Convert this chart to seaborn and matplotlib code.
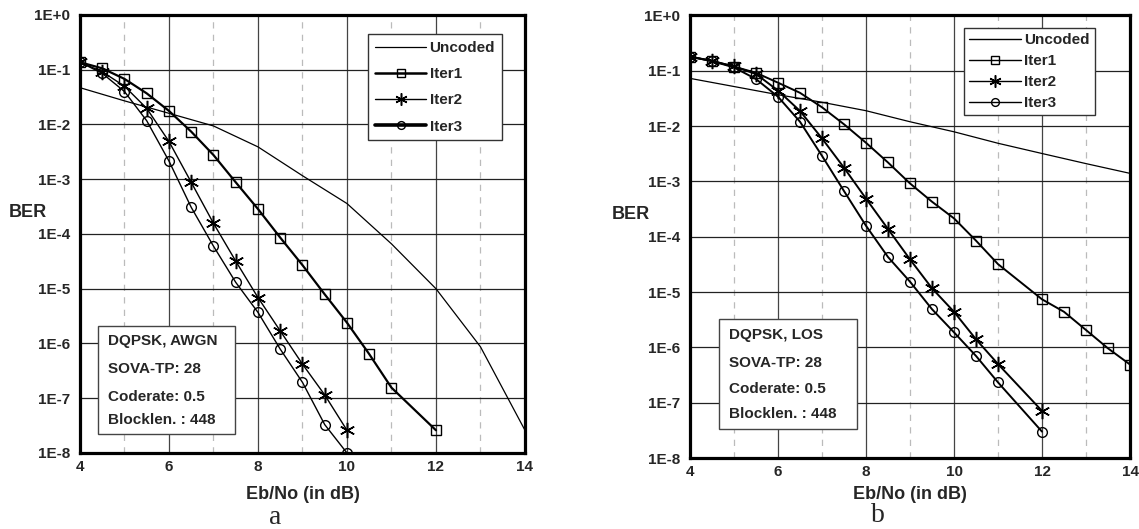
import numpy as np
import pandas as pd
import seaborn as sns
import matplotlib.pyplot as plt
from matplotlib.patches import Rectangle
from matplotlib.ticker import NullLocator

sns.set_style('white')
plt.rcParams['font.family'] = ['Liberation Sans', 'DejaVu Sans']
plt.rcParams['font.weight'] = 'bold'

# ---- data ----
ebno_uncoded = [4, 5, 6, 7, 8, 9, 10, 11, 12, 13, 14]

# (a) DQPSK, AWGN
awgn_uncoded = [4.7e-2, 2.7e-2, 1.6e-2, 9.4e-3, 3.9e-3, 1.16e-3, 3.6e-4, 6.6e-5, 1.0e-5, 8.7e-7, 2.6e-8]
awgn_iter1_x = [4, 4.5, 5, 5.5, 6, 6.5, 7, 7.5, 8, 8.5, 9, 9.5, 10, 10.5, 11, 12]
awgn_iter1 = [0.137, 0.106, 0.068, 0.037, 0.0177, 0.0074, 0.00277, 8.8e-4, 2.86e-4, 8.6e-5,
              2.7e-5, 7.9e-6, 2.4e-6, 6.4e-7, 1.56e-7, 2.6e-8]
awgn_iter23_x = [4, 4.5, 5, 5.5, 6, 6.5, 7, 7.5, 8, 8.5, 9, 9.5, 10]
awgn_iter2 = [0.137, 0.092, 0.05, 0.0197, 0.0049, 8.8e-4, 1.57e-4, 3.2e-5, 6.9e-6, 1.7e-6,
              4.2e-7, 1.15e-7, 2.6e-8]
awgn_iter3 = [0.137, 0.086, 0.04, 0.0117, 0.00215, 3.07e-4, 6.0e-5, 1.31e-5, 3.7e-6, 7.9e-7,
              1.95e-7, 3.3e-8, 1.0e-8]

# (b) DQPSK, LOS
los_uncoded = [0.073, 0.052, 0.037, 0.027, 0.019, 0.012, 0.0079, 0.0049, 0.0032, 0.0021, 0.0014]
los_iter1_x = [4, 4.5, 5, 5.5, 6, 6.5, 7, 7.5, 8, 8.5, 9, 9.5, 10, 10.5, 11, 12, 12.5, 13, 13.5, 14]
los_iter1 = [0.18, 0.152, 0.119, 0.092, 0.061, 0.040, 0.0219, 0.0108, 0.0050, 0.0022, 9.2e-4,
             4.3e-4, 2.15e-4, 8.5e-5, 3.2e-5, 7.4e-6, 4.4e-6, 2.06e-6, 9.6e-7, 4.9e-7]
los_iter23_x = [4, 4.5, 5, 5.5, 6, 6.5, 7, 7.5, 8, 8.5, 9, 9.5, 10, 10.5, 11, 12]
los_iter2 = [0.18, 0.15, 0.12, 0.0875, 0.044, 0.0188, 0.006, 0.00177, 4.9e-4, 1.38e-4, 3.9e-5,
             1.17e-5, 4.4e-6, 1.4e-6, 5.0e-7, 7.1e-8]
los_iter3 = [0.18, 0.15, 0.115, 0.071, 0.034, 0.012, 0.0029, 6.7e-4, 1.58e-4, 4.3e-5, 1.54e-5,
             4.9e-6, 1.87e-6, 7.0e-7, 2.33e-7, 3.0e-8]

ytick_vals = [10.0 ** -k for k in range(0, 9)]
ytick_labels = ['1E+0'] + ['1E-%d' % k for k in range(1, 9)]
xtick_vals = [4, 6, 8, 10, 12, 14]

info_a = ['DQPSK, AWGN', 'SOVA-TP: 28', 'Coderate: 0.5', 'Blocklen. : 448']
info_b = ['DQPSK, LOS', 'SOVA-TP: 28', 'Coderate: 0.5', 'Blocklen. : 448']

fig = plt.figure(figsize=(11.39, 5.29), dpi=100)
ax_a = fig.add_axes([0.0702, 0.1437, 0.3907, 0.828])
ax_b = fig.add_axes([0.6058, 0.1342, 0.3863, 0.8365])


def draw_panel(ax, unc, i1x, i1, i23x, i2, i3, widths):
    sns.lineplot(x=ebno_uncoded, y=unc, ax=ax, color='k', linewidth=0.9, label='Uncoded')
    sns.lineplot(x=i1x, y=i1, ax=ax, color='k', linewidth=widths[0], marker='s',
                 markersize=7, markerfacecolor='none', markeredgecolor='k',
                 markeredgewidth=1.0, label='Iter1')
    sns.lineplot(x=i23x, y=i2, ax=ax, color='k', linewidth=widths[1], marker=(6, 2, 0),
                 markersize=11, markeredgecolor='k', markeredgewidth=1.1, label='Iter2')
    sns.lineplot(x=i23x, y=i3, ax=ax, color='k', linewidth=widths[2], marker='o',
                 markersize=7, markerfacecolor='none', markeredgecolor='k',
                 markeredgewidth=1.0, label='Iter3')

    ax.set_yscale('log')
    ax.set_xlim(4, 14)
    ax.set_ylim(1e-8, 1)
    ax.set_yticks(ytick_vals)
    ax.set_yticklabels(ytick_labels)
    ax.yaxis.set_minor_locator(NullLocator())
    ax.set_xticks(xtick_vals)
    ax.set_xticks([5, 7, 9, 11, 13], minor=True)
    ax.tick_params(axis='both', which='major', labelsize=11, length=4, width=1, direction='out',
                   color='k', pad=3)
    ax.tick_params(axis='x', which='major', pad=1)
    ax.tick_params(which='minor', length=0)
    for lab in ax.get_xticklabels() + ax.get_yticklabels():
        lab.set_fontweight('bold')

    ax.grid(True, which='major', axis='y', color='#222222', linewidth=0.9, linestyle='-')
    ax.grid(True, which='major', axis='x', color='#444444', linewidth=0.9, linestyle='-')
    ax.grid(True, which='minor', axis='x', color='#bbbbbb', linewidth=0.9, linestyle=(0, (5, 5)))
    ax.set_axisbelow(True)

    for side in ['left', 'right', 'top', 'bottom']:
        ax.spines[side].set_visible(True)
        ax.spines[side].set_color('k')
        ax.spines[side].set_linewidth(2.3)

    ax.set_xlabel('Eb/No (in dB)', fontsize=13, fontweight='bold')
    ax.set_ylabel('BER', fontsize=13, fontweight='bold', rotation=0)


draw_panel(ax_a, awgn_uncoded, awgn_iter1_x, awgn_iter1, awgn_iter23_x, awgn_iter2, awgn_iter3,
           (1.6, 1.0, 1.0))
draw_panel(ax_b, los_uncoded, los_iter1_x, los_iter1, los_iter23_x, los_iter2, los_iter3,
           (1.4, 1.4, 1.4))

ax_a.xaxis.set_label_coords(0.5, -0.0753)
ax_b.xaxis.set_label_coords(0.5, -0.063)
ax_a.yaxis.set_label_coords(-0.117, 0.53)
ax_b.yaxis.set_label_coords(-0.134, 0.53)

leg_a = ax_a.legend(loc='upper left', bbox_to_anchor=(0.6465, 0.9566), frameon=True,
                    fancybox=False, edgecolor='#333333', framealpha=1, fontsize=11,
                    handlelength=3.4, labelspacing=0.8, borderpad=0.45, handletextpad=0.2,
                    borderaxespad=0, markerscale=0.8)
leg_b = ax_b.legend(loc='upper left', bbox_to_anchor=(0.6227, 0.972), frameon=True,
                    fancybox=False, edgecolor='#333333', framealpha=1, fontsize=11,
                    handlelength=3.4, labelspacing=0.45, borderpad=0.35, handletextpad=0.2,
                    borderaxespad=0, markerscale=0.8)
for leg in (leg_a, leg_b):
    leg.get_frame().set_linewidth(1.0)
leg_a.get_lines()[1].set_linewidth(1.8)
leg_a.get_lines()[3].set_linewidth(2.6)
for line in leg_b.get_lines():
    line.set_linewidth(1.0)


def info_box(ax, lines, x0, y0, x1, y1, tx, tys):
    ax.add_patch(Rectangle((x0, y0), x1 - x0, y1 - y0, transform=ax.transAxes,
                           facecolor='white', edgecolor='#444444', linewidth=1.0, zorder=5))
    for txt, ty in zip(lines, tys):
        ax.text(tx, ty, txt, transform=ax.transAxes, fontsize=11, fontweight='bold',
                va='center', ha='left', zorder=6)


info_box(ax_a, info_a, 0.04, 0.043, 0.348, 0.2906, 0.063, [0.2564, 0.1918, 0.1285, 0.0753])
info_box(ax_b, info_b, 0.0666, 0.0655, 0.380, 0.3134, 0.0893, [0.278, 0.2154, 0.1553, 0.0994])

fig.text(275 / 1139, 1 - 518 / 529, 'a', family=['Liberation Serif', 'DejaVu Serif'],
         fontweight='normal', fontsize=20, ha='center', va='center')
fig.text(878 / 1139, 1 - 516 / 529, 'b', family=['Liberation Serif', 'DejaVu Serif'],
         fontweight='normal', fontsize=20, ha='center', va='center')

fig.savefig('out.png', dpi=100)
